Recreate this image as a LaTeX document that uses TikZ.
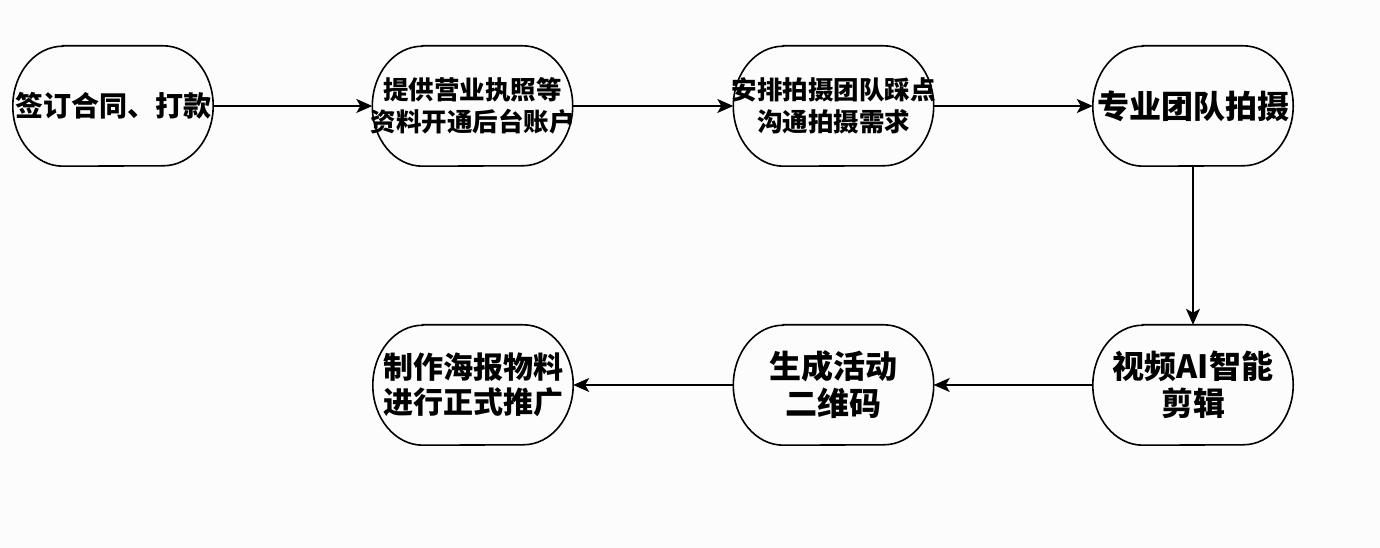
\documentclass[tikz,border=0pt]{standalone}
\usepackage{fontspec}
\newfontfamily\cjk{Noto Sans CJK SC}
\usetikzlibrary{arrows.meta}
\newcommand\capsuleoutline[1]{\draw[outline] ([xshift=50pt]#1.north west) -- ([xshift=-50pt]#1.north east) arc[start angle=90,end angle=-90,x radius=50pt,y radius=60pt] -- ([xshift=50pt]#1.south west) arc[start angle=270,end angle=90,x radius=50pt,y radius=60pt] -- cycle;}
\begin{document}
\begin{tikzpicture}[x=1pt,y=1pt,
  box/.style={rectangle, minimum width=200pt, minimum height=120pt, inner sep=0pt, draw=none},
  txt/.style={align=center, inner sep=0pt, text=black},
  fa/.style={font=\cjk\bfseries\fontsize{28}{32}\selectfont},
  fb/.style={font=\cjk\bfseries\fontsize{25.5}{32}\selectfont},
  fc/.style={font=\cjk\bfseries\fontsize{32}{37}\selectfont},
  fd/.style={font=\cjk\bfseries\fontsize{30}{35}\selectfont},
  outline/.style={line width=1.6pt, black},
  conn/.style={line width=1.6pt, black, -{Stealth[length=16pt,width=14pt,inset=4pt]}}
]
\fill[white!99!black] (0,0) rectangle (1380,548);
\useasboundingbox (0,0) rectangle (1380,548);

\node[box, label={[txt,fa]center:签订合同、打款}] (n1) at (113,442) {};
\node[box, label={[txt,fb]center:提供营业执照等\\资料开通后台账户}] (n2) at (472.5,442) {};
\node[box, label={[txt,fb]center:安排拍摄团队踩点\\沟通拍摄需求}] (n3) at (833.5,442) {};
\node[box, label={[txt,fc]center:专业团队拍摄}] (n4) at (1193,442) {};
\node[box, label={[txt,fc]center:视频AI智能\\剪辑}] (n5) at (1193,163) {};
\node[box, label={[txt,fc]center:生成活动\\二维码}] (n6) at (833.5,163) {};
\node[box, label={[txt,fd]center:制作海报物料\\进行正式推广}] (n7) at (473,163) {};

\foreach \n in {n1,n2,n3,n4,n5,n6,n7} {\capsuleoutline{\n}}

\draw[conn] (n1.east) -- (n2.west);
\draw[conn] (n2.east) -- (n3.west);
\draw[conn] (n3.east) -- (n4.west);
\draw[conn] (n4.south) -- (n5.north);
\draw[conn] (n5.west) -- (n6.east);
\draw[conn] (n6.west) -- (n7.east);
\end{tikzpicture}
\end{document}
